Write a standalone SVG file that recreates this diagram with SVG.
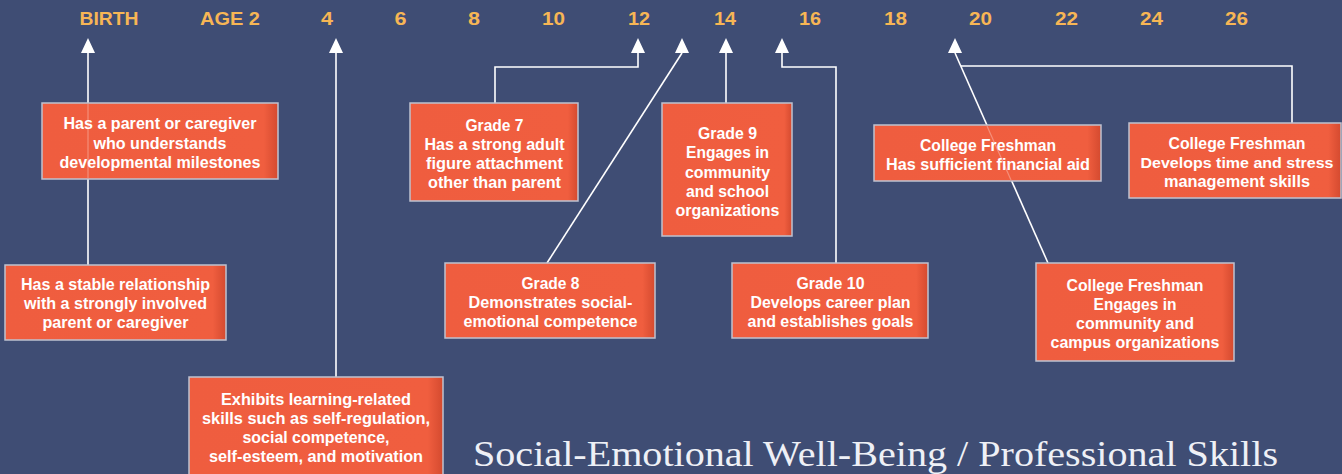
<svg xmlns="http://www.w3.org/2000/svg" width="1342" height="474" viewBox="0 0 1342 474">
<style>
.age{font-family:"Liberation Sans",Arial,sans-serif;font-weight:bold;font-size:19px;fill:#f7b655;text-anchor:middle}
.box{fill:url(#boxg);stroke:#bfc2d0;stroke-width:1.5}
.t{font-family:"Liberation Sans",Arial,sans-serif;font-weight:bold;font-size:17px;fill:#ffffff;text-anchor:middle}
.c{fill:none;stroke:#ffffff;stroke-width:1.6}
.f{fill:none;stroke:#ffffff;stroke-width:1.2;stroke-opacity:0.3}
.title{font-family:"Liberation Serif","Times New Roman",serif;font-size:36px;fill:#eef0f6}
</style>
<defs>
<linearGradient id="boxg" x1="0" y1="0" x2="1" y2="0">
<stop offset="0" stop-color="#ef5d3f"/>
<stop offset="0.94" stop-color="#f05e3f"/>
<stop offset="1" stop-color="#d44a2f"/>
</linearGradient>
<polygon id="tri" points="0,-15 7,0 -7,0" fill="#ffffff"/>
</defs>
<rect width="1342" height="474" fill="#3f4d74"/>
<g id="ages">
<text class="age" x="109" y="25" textLength="59" lengthAdjust="spacingAndGlyphs">BIRTH</text>
<text class="age" x="230" y="25" textLength="60" lengthAdjust="spacingAndGlyphs">AGE 2</text>
<text class="age" x="327" y="25" textLength="12" lengthAdjust="spacingAndGlyphs">4</text>
<text class="age" x="400.5" y="25" textLength="12" lengthAdjust="spacingAndGlyphs">6</text>
<text class="age" x="474" y="25" textLength="12" lengthAdjust="spacingAndGlyphs">8</text>
<text class="age" x="553.5" y="25" textLength="23" lengthAdjust="spacingAndGlyphs">10</text>
<text class="age" x="639" y="25" textLength="22" lengthAdjust="spacingAndGlyphs">12</text>
<text class="age" x="725" y="25" textLength="22" lengthAdjust="spacingAndGlyphs">14</text>
<text class="age" x="810" y="25" textLength="22" lengthAdjust="spacingAndGlyphs">16</text>
<text class="age" x="895.5" y="25" textLength="23" lengthAdjust="spacingAndGlyphs">18</text>
<text class="age" x="980.5" y="25" textLength="23" lengthAdjust="spacingAndGlyphs">20</text>
<text class="age" x="1066.5" y="25" textLength="23" lengthAdjust="spacingAndGlyphs">22</text>
<text class="age" x="1151.5" y="25" textLength="23" lengthAdjust="spacingAndGlyphs">24</text>
<text class="age" x="1236.5" y="25" textLength="23" lengthAdjust="spacingAndGlyphs">26</text>
</g>
<g id="connectors">
<path class="c" d="M88,53 V265"/>
<path class="c" d="M336,53 V377"/>
<path class="c" d="M495,103 V67 H638 V53"/>
<path class="c" d="M547,263 L682,53"/>
<path class="c" d="M726,103 V53"/>
<path class="c" d="M782,53 V67 H836 V263"/>
<path class="c" d="M955,53 L1048,263"/>
<path class="c" d="M961,66 H1292 V123"/>
<use href="#tri" x="88" y="53"/>
<use href="#tri" x="336" y="53"/>
<use href="#tri" x="638" y="53"/>
<use href="#tri" x="682" y="53"/>
<use href="#tri" x="726" y="53"/>
<use href="#tri" x="782" y="53"/>
<use href="#tri" x="955" y="53"/>
</g>
<g id="n1">
<rect class="box" x="42" y="103" width="236" height="76"/>
<path class="f" d="M88,104 V178"/>
<text class="t" x="160" y="129" textLength="193" lengthAdjust="spacingAndGlyphs">Has a parent or caregiver</text>
<text class="t" x="160" y="148.5" textLength="133" lengthAdjust="spacingAndGlyphs">who understands</text>
<text class="t" x="160" y="168" textLength="201" lengthAdjust="spacingAndGlyphs">developmental milestones</text>
</g>
<g id="n2">
<rect class="box" x="5" y="265" width="221" height="75"/>
<text class="t" x="115.5" y="290" textLength="189" lengthAdjust="spacingAndGlyphs">Has a stable relationship</text>
<text class="t" x="115.5" y="309" textLength="183" lengthAdjust="spacingAndGlyphs">with a strongly involved</text>
<text class="t" x="115.5" y="328" textLength="146" lengthAdjust="spacingAndGlyphs">parent or caregiver</text>
</g>
<g id="n3">
<rect class="box" x="189" y="377" width="254" height="105"/>
<text class="t" x="316" y="405" textLength="190" lengthAdjust="spacingAndGlyphs">Exhibits learning-related</text>
<text class="t" x="316" y="424" textLength="228" lengthAdjust="spacingAndGlyphs">skills such as self-regulation,</text>
<text class="t" x="316" y="443" textLength="147" lengthAdjust="spacingAndGlyphs">social competence,</text>
<text class="t" x="316" y="462" textLength="214" lengthAdjust="spacingAndGlyphs">self-esteem, and motivation</text>
</g>
<g id="n4">
<rect class="box" x="410" y="103" width="168" height="98"/>
<text class="t" x="494.5" y="131" textLength="58" lengthAdjust="spacingAndGlyphs">Grade 7</text>
<text class="t" x="494.5" y="150" textLength="140" lengthAdjust="spacingAndGlyphs">Has a strong adult</text>
<text class="t" x="494.5" y="169" textLength="137" lengthAdjust="spacingAndGlyphs">figure attachment</text>
<text class="t" x="494.5" y="188" textLength="133" lengthAdjust="spacingAndGlyphs">other than parent</text>
</g>
<g id="n5">
<rect class="box" x="662" y="103" width="130" height="133"/>
<text class="t" x="727.5" y="139" textLength="59" lengthAdjust="spacingAndGlyphs">Grade 9</text>
<text class="t" x="727.5" y="158" textLength="83" lengthAdjust="spacingAndGlyphs">Engages in</text>
<text class="t" x="727.5" y="177.5" textLength="85" lengthAdjust="spacingAndGlyphs">community</text>
<text class="t" x="727.5" y="197" textLength="83" lengthAdjust="spacingAndGlyphs">and school</text>
<text class="t" x="727.5" y="216" textLength="104" lengthAdjust="spacingAndGlyphs">organizations</text>
</g>
<g id="n6">
<rect class="box" x="445" y="263" width="210" height="75"/>
<text class="t" x="550.5" y="289" textLength="58" lengthAdjust="spacingAndGlyphs">Grade 8</text>
<text class="t" x="550.5" y="308" textLength="164" lengthAdjust="spacingAndGlyphs">Demonstrates social-</text>
<text class="t" x="550.5" y="327" textLength="174" lengthAdjust="spacingAndGlyphs">emotional competence</text>
</g>
<g id="n7">
<rect class="box" x="732" y="263" width="196" height="75"/>
<text class="t" x="830.5" y="289" textLength="68" lengthAdjust="spacingAndGlyphs">Grade 10</text>
<text class="t" x="830.5" y="308" textLength="160" lengthAdjust="spacingAndGlyphs">Develops career plan</text>
<text class="t" x="830.5" y="327" textLength="166" lengthAdjust="spacingAndGlyphs">and establishes goals</text>
</g>
<g id="n8">
<rect class="box" x="874" y="125" width="227" height="56"/>
<path class="f" d="M987,126 L1011,180"/>
<text class="t" x="988" y="151" textLength="136" lengthAdjust="spacingAndGlyphs">College Freshman</text>
<text class="t" x="988" y="170" textLength="204" lengthAdjust="spacingAndGlyphs">Has sufficient financial aid</text>
</g>
<g id="n9">
<rect class="box" x="1129" y="123" width="212" height="75"/>
<text class="t" x="1237" y="149" textLength="137" lengthAdjust="spacingAndGlyphs">College Freshman</text>
<text class="t" x="1237" y="168" textLength="193" lengthAdjust="spacingAndGlyphs" style="font-size:15.5px">Develops time and stress</text>
<text class="t" x="1237" y="187" textLength="146" lengthAdjust="spacingAndGlyphs">management skills</text>
</g>
<g id="n10">
<rect class="box" x="1036" y="263" width="198" height="98"/>
<text class="t" x="1135" y="291" textLength="137" lengthAdjust="spacingAndGlyphs">College Freshman</text>
<text class="t" x="1135" y="310" textLength="83" lengthAdjust="spacingAndGlyphs">Engages in</text>
<text class="t" x="1135" y="329" textLength="118" lengthAdjust="spacingAndGlyphs">community and</text>
<text class="t" x="1135" y="348" textLength="169" lengthAdjust="spacingAndGlyphs">campus organizations</text>
</g>
<text class="title" x="473" y="466" textLength="805" lengthAdjust="spacingAndGlyphs">Social-Emotional Well-Being / Professional Skills</text>
</svg>
